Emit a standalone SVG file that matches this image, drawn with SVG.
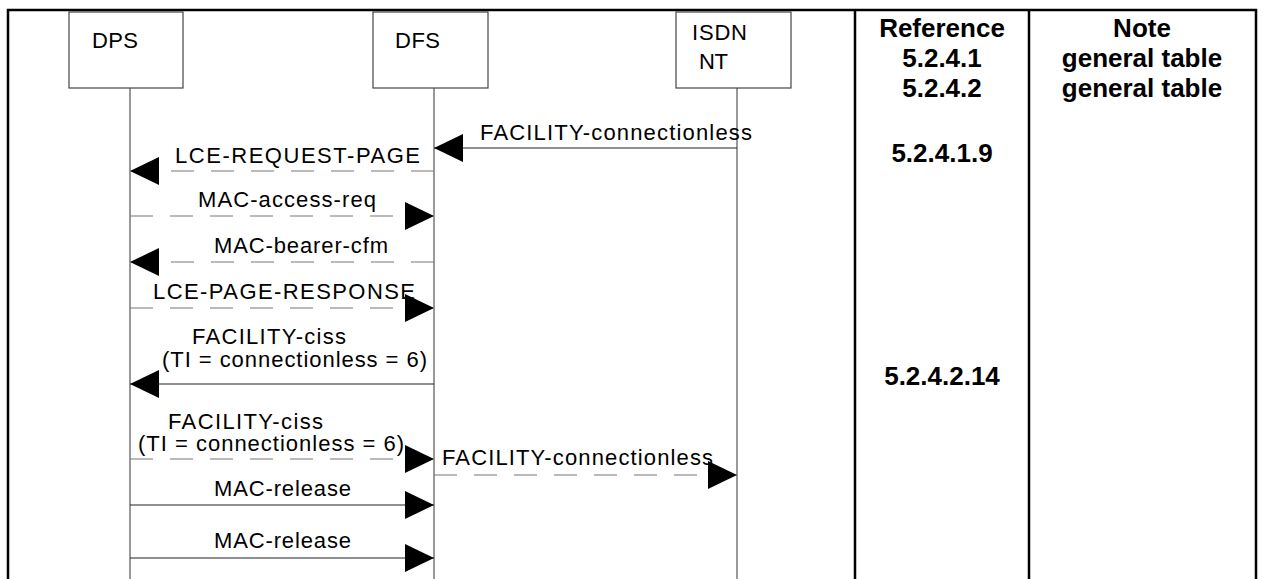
<svg xmlns="http://www.w3.org/2000/svg" width="1262" height="579" viewBox="0 0 1262 579">
<style>
.frame{stroke:#000;stroke-width:2.5;fill:none}
.box{fill:#fff;stroke:#444;stroke-width:1.2}
.life{stroke:#555;stroke-width:1.2}
.solid{stroke:#222;stroke-width:1.2;fill:none}
.dash{stroke:#777;stroke-width:1.2;fill:none;stroke-dasharray:23 17}
.lbl{font-family:"Liberation Sans",Arial,sans-serif;font-size:22px;fill:#000}
.ref{font-family:"Liberation Sans",Arial,sans-serif;font-size:26px;font-weight:bold;fill:#000;text-anchor:middle}
</style>
<defs>
<marker id="ah" viewBox="0 0 29 28" refX="29" refY="14" markerWidth="29" markerHeight="28" markerUnits="userSpaceOnUse" orient="auto">
<path d="M0,0 L29,14 L0,28 z" fill="#000"/>
</marker>
</defs>
<rect width="1262" height="579" fill="#fff"/>
<g id="table">
<path class="frame" d="M8,579 V10 H1256 V579"/>
<line class="frame" x1="855" y1="10" x2="855" y2="579"/>
<line class="frame" x1="1029" y1="10" x2="1029" y2="579"/>
<text class="ref" x="942" y="37">Reference</text>
<text class="ref" x="942" y="67">5.2.4.1</text>
<text class="ref" x="942" y="97">5.2.4.2</text>
<text class="ref" x="942" y="162">5.2.4.1.9</text>
<text class="ref" x="942" y="385">5.2.4.2.14</text>
<text class="ref" x="1142" y="37">Note</text>
<text class="ref" x="1142" y="67">general table</text>
<text class="ref" x="1142" y="97">general table</text>
</g>
<g id="DPS">
<line class="life" x1="130" y1="88" x2="130" y2="579"/>
<rect class="box" x="69" y="12" width="114" height="76"/>
<text class="lbl" x="92" y="48" textLength="46">DPS</text>
</g>
<g id="DFS">
<line class="life" x1="434" y1="88" x2="434" y2="579"/>
<rect class="box" x="373" y="12" width="115" height="76"/>
<text class="lbl" x="395" y="48" textLength="45">DFS</text>
</g>
<g id="ISDN_NT">
<line class="life" x1="737" y1="88" x2="737" y2="579"/>
<rect class="box" x="676" y="12" width="115" height="76"/>
<text class="lbl" x="692" y="40" textLength="55">ISDN</text>
<text class="lbl" x="699" y="69" textLength="29">NT</text>
</g>
<g id="connectors">
<line class="solid" x1="737" y1="148" x2="434" y2="148" marker-end="url(#ah)"/>
<line class="dash" x1="434" y1="171" x2="130" y2="171" marker-end="url(#ah)"/>
<line class="dash" x1="130" y1="216" x2="434" y2="216" marker-end="url(#ah)"/>
<line class="dash" x1="434" y1="262" x2="130" y2="262" marker-end="url(#ah)"/>
<line class="dash" x1="130" y1="308" x2="434" y2="308" marker-end="url(#ah)"/>
<line class="solid" x1="434" y1="384" x2="130" y2="384" marker-end="url(#ah)"/>
<line class="dash" x1="130" y1="459" x2="434" y2="459" marker-end="url(#ah)"/>
<line class="dash" x1="434" y1="475" x2="737" y2="475" marker-end="url(#ah)"/>
<line class="solid" x1="130" y1="505" x2="434" y2="505" marker-end="url(#ah)"/>
<line class="solid" x1="130" y1="558" x2="434" y2="558" marker-end="url(#ah)"/>
</g>
<g id="labels">
<text class="lbl" x="480" y="140" textLength="272">FACILITY-connectionless</text>
<text class="lbl" x="175" y="163" textLength="245">LCE-REQUEST-PAGE</text>
<text class="lbl" x="198" y="207" textLength="178">MAC-access-req</text>
<text class="lbl" x="214" y="253" textLength="174">MAC-bearer-cfm</text>
<text class="lbl" x="153" y="299" textLength="262">LCE-PAGE-RESPONSE</text>
<text class="lbl" x="192" y="344" textLength="154">FACILITY-ciss</text>
<text class="lbl" x="162" y="367" textLength="265">(TI = connectionless = 6)</text>
<text class="lbl" x="168" y="429" textLength="155">FACILITY-ciss</text>
<text class="lbl" x="138" y="451" textLength="266">(TI = connectionless = 6)</text>
<text class="lbl" x="442" y="465" textLength="271">FACILITY-connectionless</text>
<text class="lbl" x="214" y="496" textLength="137">MAC-release</text>
<text class="lbl" x="214" y="548" textLength="137">MAC-release</text>
</g>
</svg>
